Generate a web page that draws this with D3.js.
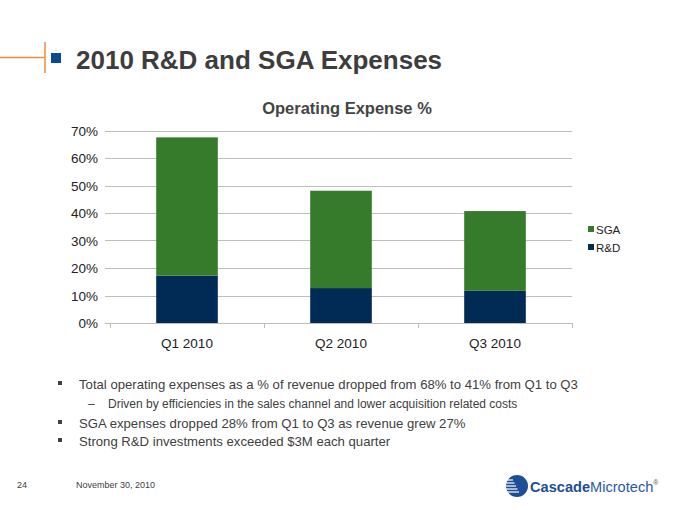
<!DOCTYPE html>
<html><head><meta charset="utf-8">
<script src="https://cdn.jsdelivr.net/npm/d3@7"></script>
<style>body{margin:0;background:#fff}svg{display:block;font-family:"Liberation Sans",Arial,sans-serif}</style>
</head><body>
<script>
const categories = ["Q1 2010", "Q2 2010", "Q3 2010"];
const rdValues = [17.2, 12.7, 11.7];
const sgaValues = [50.3, 35.4, 29.0];
const seriesNames = ["SGA", "R&D"];
const yTicks = [0, 10, 20, 30, 40, 50, 60, 70];
const bullets = [
  "Total operating expenses as a % of revenue dropped from 68% to 41% from Q1 to Q3",
  "Driven by efficiencies in the sales channel and lower acquisition related costs",
  "SGA expenses dropped 28% from Q1 to Q3 as revenue grew 27%",
  "Strong R&D investments exceeded $3M each quarter"
];

const W = 680, H = 510;
const svg = d3.select("body").append("svg").attr("width", W).attr("height", H);
const txt = "#404040";

// header
svg.append("line").attr("x1",0).attr("x2",45).attr("y1",57.5).attr("y2",57.5).attr("stroke","#F08A3C").attr("stroke-width",1.5);
svg.append("line").attr("x1",45).attr("x2",45).attr("y1",42).attr("y2",73).attr("stroke","#F08A3C").attr("stroke-width",1.5);
svg.append("rect").attr("x",51).attr("y",53).attr("width",10).attr("height",10).attr("fill","#0B4A8B");
svg.append("text").attr("x",76).attr("y",69).attr("font-size",26).attr("font-weight","bold").attr("fill","#3d3d3d").text("2010 R&D and SGA Expenses");

// chart
const x = d3.scaleBand().domain(categories).range([110, 572]).padding(0);
const y = d3.scaleLinear().domain([0, 70]).range([323, 130.5]);
const barW = x.bandwidth() * 0.4;

svg.append("text").attr("x",347).attr("y",114).attr("text-anchor","middle").attr("font-size",16.5).attr("font-weight","bold").attr("fill","#444").text("Operating Expense %");

const grid = svg.append("g");
grid.selectAll("line").data(yTicks).join("line")
  .attr("x1",105).attr("x2",572).attr("y1",d=>Math.round(y(d))+0.5).attr("y2",d=>Math.round(y(d))+0.5)
  .attr("stroke","#bdbdbd").attr("stroke-width",1);
grid.selectAll("text").data(yTicks).join("text")
  .attr("x",98).attr("y",d=>y(d)+5).attr("text-anchor","end").attr("font-size",13.5).attr("fill","#222")
  .text(d=>d+"%");

// x axis ticks
svg.append("g").selectAll("line").data(categories.map((c,i)=>i===0?[x(c), x(c)+x.bandwidth()]:[x(c)+x.bandwidth()]).flat())
  .join("line").attr("x1",d=>Math.round(d)+0.5).attr("x2",d=>Math.round(d)+0.5).attr("y1",323).attr("y2",328).attr("stroke","#bdbdbd");

const bars = svg.append("g");
categories.forEach((c,i)=>{
  const bx = x(c) + (x.bandwidth()-barW)/2;
  bars.append("rect").attr("x",bx).attr("width",barW).attr("y",y(rdValues[i])).attr("height",y(0)-y(rdValues[i])).attr("fill","#012A55");
  bars.append("rect").attr("x",bx).attr("width",barW).attr("y",y(rdValues[i]+sgaValues[i])).attr("height",y(rdValues[i])-y(rdValues[i]+sgaValues[i])).attr("fill","#367A2B");
});
svg.append("g").selectAll("text").data(categories).join("text")
  .attr("x",d=>x(d)+x.bandwidth()/2).attr("y",348).attr("text-anchor","middle").attr("font-size",13.5).attr("fill","#222").text(d=>d);

// legend
const legColors = ["#367A2B", "#012A55"];
seriesNames.forEach((s,i)=>{
  const ly = 231 + i*18;
  svg.append("rect").attr("x",588).attr("y",ly-5).attr("width",6).attr("height",6).attr("fill",legColors[i]);
  svg.append("text").attr("x",596).attr("y",ly+3).attr("font-size",11.5).attr("fill","#222").text(s);
});

// bullets
const rows = [
  {y:389, bx:58, tx:79, fs:13.15, sub:false},
  {y:408, bx:88, tx:108, fs:12, sub:true},
  {y:428, bx:58, tx:79, fs:13.15, sub:false},
  {y:446, bx:58, tx:79, fs:13.15, sub:false}
];
bullets.forEach((b,i)=>{
  const r = rows[i];
  if (r.sub) svg.append("text").attr("x",r.bx).attr("y",r.y).attr("font-size",r.fs).attr("fill",txt).text("–");
  else svg.append("rect").attr("x",r.bx).attr("y",r.y-8).attr("width",4).attr("height",4).attr("fill",txt);
  svg.append("text").attr("x",r.tx).attr("y",r.y).attr("font-size",r.fs).attr("fill",txt).text(b);
});

// footer
svg.append("text").attr("x",17).attr("y",488).attr("font-size",9).attr("fill",txt).text("24");
svg.append("text").attr("x",76).attr("y",488).attr("font-size",9).attr("fill",txt).text("November 30, 2010");

// logo
const lg = svg.append("g");
lg.append("circle").attr("cx",517).attr("cy",486).attr("r",11).attr("fill","#1E4E95");
[480,483,486,489,492].forEach((ly,i)=>{
  lg.append("line").attr("x1",505).attr("x2",513+i*1.5).attr("y1",ly).attr("y2",ly).attr("stroke","#fff").attr("stroke-width",1.2);
});
const lt = lg.append("text").attr("x",530).attr("y",492).attr("font-size",14.6).attr("fill","#1E4E95");
lt.append("tspan").attr("font-weight","bold").text("Cascade");
lt.append("tspan").attr("fill","#2a5aa0").text("Microtech");
lt.append("tspan").attr("font-size",7).attr("dy",-7).attr("fill","#555").text("®");
</script>
</body></html>
